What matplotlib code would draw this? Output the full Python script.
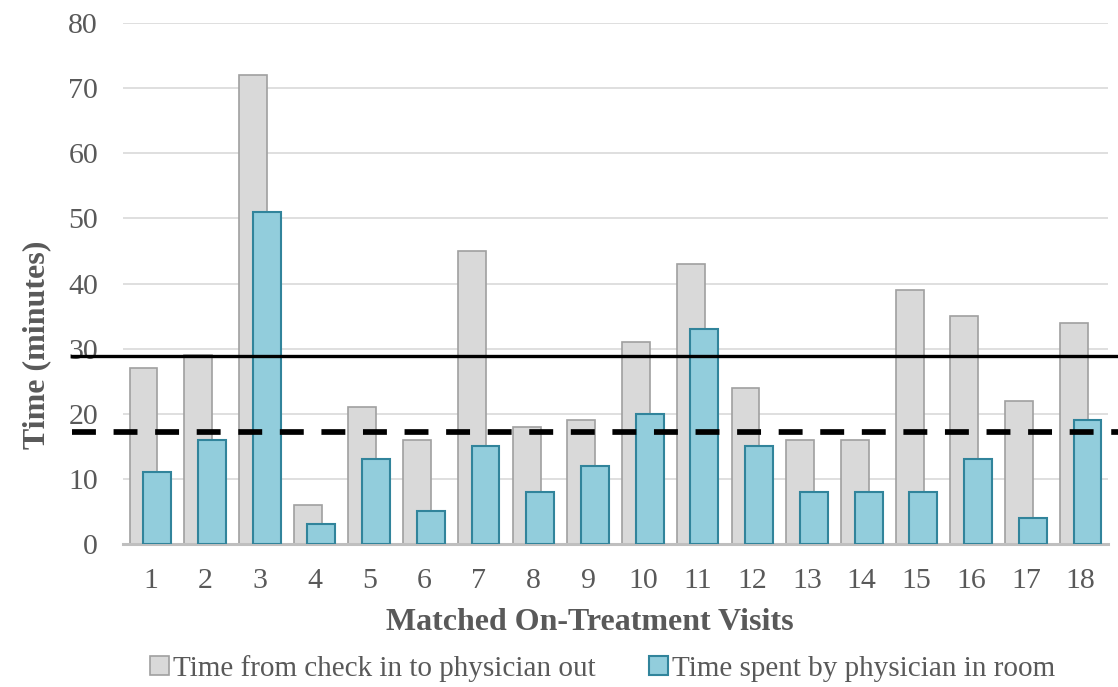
import matplotlib.pyplot as plt
import numpy as np

# Données
visits = list(range(1, 19))
total_time = [27, 29, 72, 6, 21, 16, 45, 18, 19, 31, 43, 24, 16, 16, 39, 35, 22, 34]
physician_time = [11, 16, 51, 3, 13, 5, 15, 8, 12, 20, 33, 15, 8, 8, 8, 13, 4, 19]
mean_total = 28.8
mean_physician = 17.2

plt.rcParams['font.family'] = ['Liberation Serif', 'DejaVu Serif']
TXT = "#595959"

fig = plt.figure(figsize=(11.18, 6.87), dpi=100)
ax = fig.add_axes([123 / 1118, 1 - 544 / 687, 985 / 1118, (544 - 23) / 687])

x = np.array(visits)
w = 0.51
ax.bar(x - 0.125, total_time, width=w, color="#D9D9D9", edgecolor="#A0A0A0",
       linewidth=1.2, zorder=2, label="Time from check in to physician out")
ax.bar(x + 0.125, physician_time, width=w, color="#92CDDC", edgecolor="#31849B",
       linewidth=1.5, zorder=3, label="Time spent by physician in room")

# lignes de moyenne, débordent de la zone de tracé
tr = ax.get_yaxis_transform()
ax.plot([-0.052, 1.01], [mean_total, mean_total], color="black", lw=2.4,
        transform=tr, clip_on=False, zorder=5)
ax.plot([-0.052, 1.01], [mean_physician, mean_physician], color="black", lw=4.1,
        dashes=(4.2, 3.1), transform=tr, clip_on=False, zorder=5)

ax.set_xlim(0.5, 18.5)
ax.set_ylim(0, 80)
ax.set_yticks(range(0, 81, 10))
ax.set_xticks(visits)
ax.yaxis.grid(True, color="#D9D9D9", lw=1.2, zorder=0)
ax.set_axisbelow(True)
for s in ["top", "right", "left"]:
    ax.spines[s].set_visible(False)
ax.spines["bottom"].set_color("#BFBFBF")
ax.spines["bottom"].set_linewidth(2.2)
ax.tick_params(axis="both", length=0, labelsize=21.5, labelcolor=TXT)
ax.tick_params(axis="y", pad=18)
ax.tick_params(axis="x", pad=17)

ax.set_xlabel("Matched On-Treatment Visits", fontsize=23, fontweight="bold",
              color=TXT, labelpad=10)
ax.xaxis.label.set_x(0.474)
ax.set_ylabel("Time (minutes)", fontsize=23, fontweight="bold", color=TXT,
              labelpad=12)
ax.yaxis.label.set_y(0.382)

leg = fig.legend(loc="center", bbox_to_anchor=(0.539, 0.027), ncol=2,
                 frameon=False, fontsize=21, handlelength=0.65, handleheight=0.65,
                 handletextpad=0.15, columnspacing=1.8)
for t in leg.get_texts():
    t.set_color(TXT)

fig.savefig("out.png", dpi=100)
